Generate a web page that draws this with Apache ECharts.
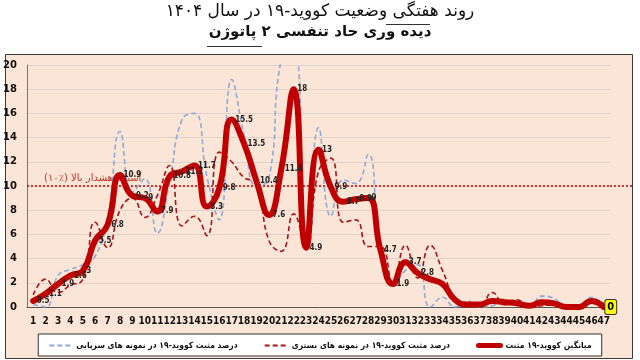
<!DOCTYPE html>
<html dir="rtl">
<head>
<meta charset="utf-8">
<script src="https://cdn.jsdelivr.net/npm/echarts@6/dist/echarts.min.js"></script>
<style>
html,body{margin:0;padding:0;background:#fff;}
#c{width:640px;height:360px;direction:ltr;}
</style>
</head>
<body>
<div id="c"></div>
<script>
const weeks = ['1','2','3','4','5','6','7','8','9','10','11','12','13','14','15','16','17','18','19','20','21','22','23','24','25','26','27','28','29','30','31','32','33','34','35','36','37','38','39','40','41','42','43','44','45','46','47'];
const avgPositive = [0.5,1.1,1.9,2.6,3,5.5,6.8,10.9,9.2,9,7.9,10.8,11.2,11.7,8.3,9.8,15.5,13.5,10.4,7.6,11.4,18,4.9,13,9.9,8.7,8.9,9,4.7,1.9,3.7,2.8,2.3,1.9,0.6,0.2,0.2,0.5,0.4,0.3,0.1,0.4,0.3,0,0,0.5,0];
const inpatient = [1.0,2.3,1.2,1.8,2.3,7.0,4.9,8.0,9.0,7.4,9.2,11.7,6.7,7.5,5.9,12.8,12.0,10.7,10.3,5.5,4.6,7.7,4.9,11.2,12.3,7.0,7.2,5.0,5.0,2.0,5.1,2.4,5.1,3.0,0.7,0.2,0.1,1.2,0.2,0.6,0,0.1,0.2,0,0,0.3,0];
const outpatient = [0.2,0,2.6,3.1,3.5,4.2,7.5,14.5,9.5,10.6,6.1,10.4,15.5,16.0,10.8,7.2,18.8,14.2,10.0,10.6,20.5,21.5,5.0,14.8,7.5,10.5,10.2,12.6,4.5,1.7,3.0,3.5,0,0.8,0,0.5,0,0.1,0.5,0.3,0,0.9,0.7,0,0,0.8,0];
const yTicks = [0,2,4,6,8,10,12,14,16,18,20];
const threshold = 10;
const labelledCount = 32;

const names = {
  out: 'درصد مثبت کووید-۱۹ در نمونه های سرپایی',
  inp: 'درصد مثبت کووید-۱۹ در نمونه های بستری',
  avg: 'میانگین کووید-۱۹ مثبت'
};
const titleLine1 = 'روند هفتگی وضعیت کووید-۱۹ در سال ۱۴۰۴';
const titleLine2 = 'دیده وری حاد تنفسی ۲ پاتوژن';
const thresholdLabel = 'آستانه هشدار بالا (٪۱۰)';

const FONT = 'DejaVu Sans';
const CFONT = 'DejaVu Sans Condensed';
const chart = echarts.init(document.getElementById('c'));

const avgData = avgPositive.map((v, i) => {
  if (i === avgPositive.length - 1) {
    return {value: v, label: {show: true, position: 'right', distance: 1, fontSize: 11, fontWeight: 'bold', color: '#000',
      backgroundColor: '#ffff00', borderColor: '#333', borderWidth: 1, borderRadius: 2, padding: [2, 2, 1, 2]}};
  }
  return {value: v, label: {show: i < labelledCount}};
});

function decorations(py) {
  const g = [
    {type: 'rect', z: -10, silent: true, shape: {x: 5.5, y: 54.5, width: 627, height: 304},
     style: {fill: '#fbe5d6', stroke: '#3a3a3a', lineWidth: 1}},
    {type: 'text', left: 'center', top: 3, style: {text: titleLine1, font: '17px "DejaVu Sans"', fill: '#111'}},
    {type: 'text', left: 'center', top: 25, style: {text: titleLine2, font: 'bold 15px "DejaVu Sans"', fill: '#111'}},
    {type: 'line', silent: true, shape: {x1: 386, y1: 24.5, x2: 430, y2: 24.5}, style: {stroke: '#333', lineWidth: 1}},
    {type: 'line', silent: true, shape: {x1: 207, y1: 46.5, x2: 262, y2: 46.5}, style: {stroke: '#333', lineWidth: 1}}
  ];
  if (py != null) {
    g.push({type: 'line', silent: true, shape: {x1: 610, y1: py, x2: 632, y2: py},
      style: {stroke: '#c00000', lineWidth: 1.5, lineDash: [2, 2]}});
  }
  return g;
}

chart.setOption({
  animation: false,
  textStyle: {fontFamily: FONT},
  graphic: decorations(null),
  grid: {left: 27, right: 30, top: 65, bottom: 53},
  legend: {
    data: [
      {name: names.out},
      {name: names.inp},
      {name: names.avg, lineStyle: {width: 5, cap: 'round'}}
    ],
    bottom: 4, left: 'center',
    backgroundColor: '#fff', borderColor: '#333', borderWidth: 1, padding: [7, 10, 6, 10],
    itemGap: 26, itemWidth: 22, itemHeight: 8,
    itemStyle: {opacity: 0},
    textStyle: {fontFamily: CFONT, fontSize: 8.5, fontWeight: 'bold', color: '#111'}
  },
  xAxis: {
    type: 'category', data: weeks, boundaryGap: true,
    axisLine: {lineStyle: {color: '#555', width: 1}},
    axisTick: {show: false},
    axisLabel: {interval: 0, fontSize: 10, fontWeight: 'bold', color: '#111', margin: 9, fontFamily: CFONT}
  },
  yAxis: {
    type: 'value', min: 0, max: 20, interval: 2,
    axisLine: {show: true, lineStyle: {color: '#777'}},
    axisTick: {show: false},
    splitLine: {lineStyle: {color: '#e0d2c8'}},
    axisLabel: {fontSize: 10, fontWeight: 'bold', color: '#111', margin: 10, fontFamily: FONT,
      formatter: v => yTicks.includes(v) ? String(v) : ''}
  },
  series: [
    {name: names.out, type: 'line', data: outpatient, smooth: 0.5, symbol: 'none', clip: true,
     lineStyle: {color: '#8eaad6', width: 1.6, type: [5, 3]}, itemStyle: {color: '#8eaad6'}, z: 2},
    {name: names.inp, type: 'line', data: inpatient, smooth: 0.5, symbol: 'none', clip: true,
     lineStyle: {color: '#a3141b', width: 1.6, type: [5, 3]}, itemStyle: {color: '#a3141b'}, z: 3},
    {name: names.avg, type: 'line', data: avgData, smooth: 0.5, symbol: 'circle', symbolSize: 1, showSymbol: true,
     lineStyle: {color: '#c00000', width: 6, cap: 'round', join: 'round'}, itemStyle: {color: '#c00000'}, z: 4,
     label: {show: false, position: 'right', distance: 3, fontSize: 8, fontWeight: 'bold', color: '#222', fontFamily: CFONT},
     labelLayout: {hideOverlap: false},
     markLine: {silent: true, symbol: 'none', z: 1,
       lineStyle: {color: '#c00000', type: [2, 2], width: 1.5},
       label: {show: true, position: 'insideStartTop', formatter: thresholdLabel, color: '#c0392b', fontSize: 10, fontFamily: FONT, distance: [17, 3]},
       data: [{yAxis: threshold}]}
    }
  ]
});

const py = chart.convertToPixel({yAxisIndex: 0}, threshold);
chart.setOption({graphic: decorations(py)}, {replaceMerge: ['graphic']});
</script>
</body>
</html>
